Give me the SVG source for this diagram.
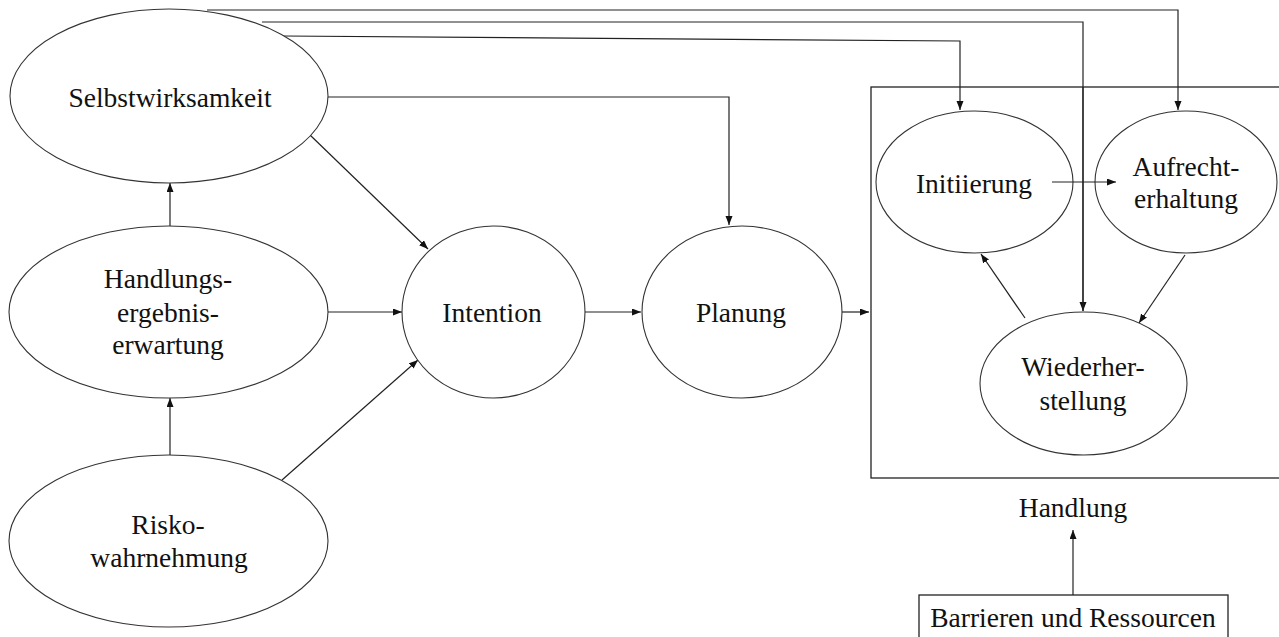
<svg xmlns="http://www.w3.org/2000/svg" width="1279" height="637" viewBox="0 0 1279 637" font-family="'Liberation Serif', 'Times New Roman', 'DejaVu Serif', serif">
<defs>
<marker id="ah" markerUnits="userSpaceOnUse" markerWidth="10" markerHeight="8" refX="9" refY="3.5" orient="auto">
<path d="M0,0 L9,3.5 L0,7 z" fill="#111"/>
</marker>
<style>
.n{fill:#fff;stroke:#333;stroke-width:1.1}
.t{font-size:27.5px;fill:#111;text-anchor:middle}
.c{fill:none;stroke:#222;stroke-width:1.2;marker-end:url(#ah)}
.p{fill:none;stroke:#222;stroke-width:1.2}
</style>
</defs>
<rect width="1279" height="637" fill="#fff"/>
<g id="handlung-box">
<rect x="871" y="87" width="420" height="391" fill="none" stroke="#222" stroke-width="1.3"/>
<text class="t" x="1073" y="517">Handlung</text>
</g>
<g id="connectors">
<polyline class="c" points="207,10 1178,10 1178,110"/>
<polyline class="c" points="262,22 1083,22 1083,311"/>
<polyline class="c" points="283,36 960,41 960,110"/>
<polyline class="c" points="328,97 729,97 729,225"/>
<line class="c" x1="310" y1="135" x2="428" y2="249"/>
<line class="c" x1="328" y1="312" x2="402" y2="312"/>
<line class="c" x1="282" y1="480" x2="418" y2="360"/>
<line class="c" x1="170" y1="226" x2="170" y2="183"/>
<line class="c" x1="170" y1="455" x2="170" y2="398"/>
<line class="c" x1="585" y1="312" x2="641" y2="312"/>
<line class="c" x1="842" y1="312" x2="869" y2="312"/>
<line class="c" x1="1025" y1="318" x2="981" y2="254"/>
<line class="c" x1="1185" y1="255" x2="1139" y2="323"/>
<line class="c" x1="1073" y1="595" x2="1073" y2="530"/>
</g>
<g id="selbstwirksamkeit">
<ellipse class="n" cx="169" cy="96" rx="159" ry="87"/>
<text class="t" x="170" y="107">Selbstwirksamkeit</text>
</g>
<g id="handlungsergebnis">
<ellipse class="n" cx="168.5" cy="312" rx="159.5" ry="86"/>
<text class="t" x="168" y="288">Handlungs-</text>
<text class="t" x="168" y="322">ergebnis-</text>
<text class="t" x="168" y="354">erwartung</text>
</g>
<g id="risiko">
<ellipse class="n" cx="168.5" cy="541" rx="159.5" ry="86"/>
<text class="t" x="168" y="534">Risko-</text>
<text class="t" x="169" y="567">wahrnehmung</text>
</g>
<g id="intention">
<ellipse class="n" cx="493.5" cy="312" rx="91.5" ry="86"/>
<text class="t" x="492" y="322">Intention</text>
</g>
<g id="planung">
<ellipse class="n" cx="742" cy="312" rx="100" ry="86"/>
<text class="t" x="741" y="322">Planung</text>
</g>
<g id="initiierung">
<ellipse class="n" cx="974.5" cy="182" rx="98.5" ry="71"/>
<text class="t" x="974" y="193">Initiierung</text>
</g>
<g id="aufrechterhaltung">
<ellipse class="n" cx="1186" cy="182" rx="91" ry="71"/>
<text class="t" x="1186" y="176">Aufrecht-</text>
<text class="t" x="1186" y="208">erhaltung</text>
</g>
<g id="wiederherstellung">
<ellipse class="n" cx="1083.5" cy="383.5" rx="103.5" ry="71.5"/>
<text class="t" x="1083" y="376">Wiederher-</text>
<text class="t" x="1083" y="410">stellung</text>
</g>
<line class="c" x1="1052" y1="182" x2="1116" y2="182"/>
<line class="p" x1="1083" y1="87" x2="1083" y2="311"/>
<g id="barrieren">
<rect x="919" y="595" width="309" height="60" fill="#fff" stroke="#222" stroke-width="1.3"/>
<text class="t" x="1073" y="627">Barrieren und Ressourcen</text>
</g>
</svg>
